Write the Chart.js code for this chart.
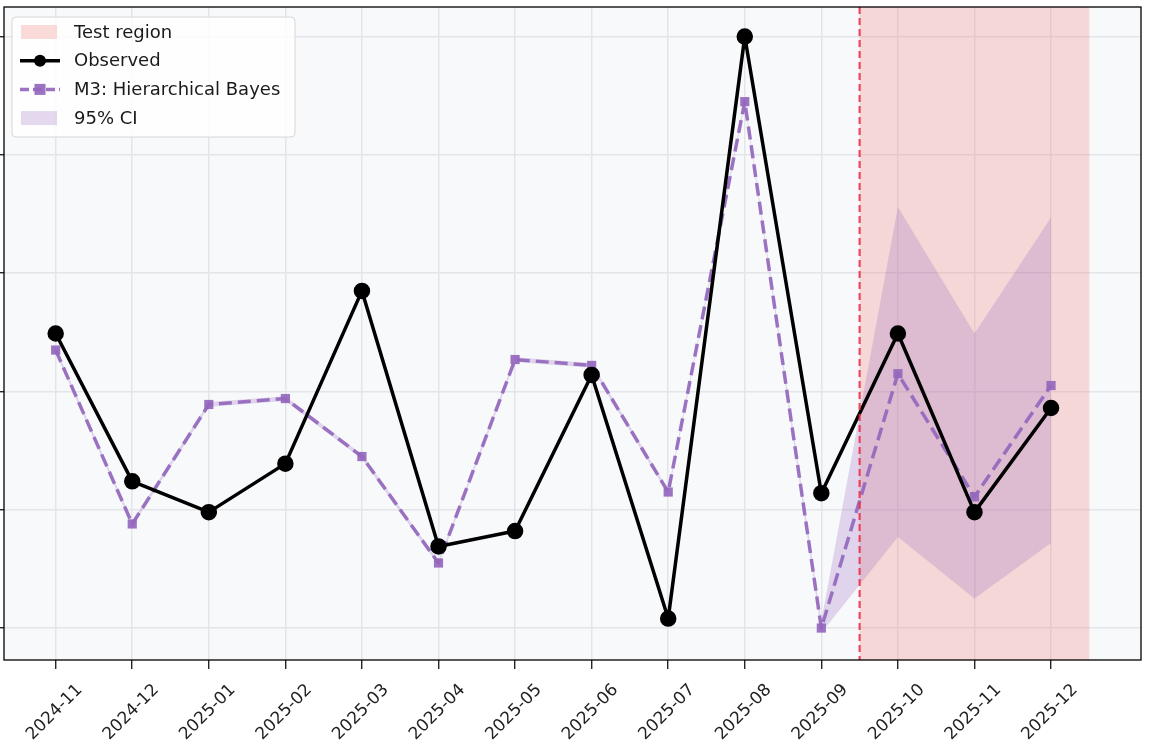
<!DOCTYPE html>
<html>
<head>
<meta charset="utf-8">
<script src="https://cdn.jsdelivr.net/npm/chart.js@4.4.1/dist/chart.umd.min.js"></script>
<style>
  html, body { margin: 0; padding: 0; background: #fff; }
  #wrap { width: 1149px; height: 747px; }
</style>
</head>
<body>
<div id="wrap"><canvas id="chart"></canvas></div>
<script>
// values (y axis is unlabelled, units are gridline steps)
const months = ['2024-11','2024-12','2025-01','2025-02','2025-03','2025-04','2025-05',
                '2025-06','2025-07','2025-08','2025-09','2025-10','2025-11','2025-12'];
const observed = [2.49, 1.24, 0.98, 1.39, 2.85, 0.69, 0.82, 2.14, 0.08, 5.00, 1.14, 2.49, 0.98, 1.86];
const m3Pred   = [2.35, 0.88, 1.89, 1.94, 1.45, 0.55, 2.27, 2.22, 1.15, 4.45, 0.00, 2.15, 1.11, 2.05];
const ciLower  = [2.33, 0.86, 1.87, 1.92, 1.43, 0.53, 2.25, 2.20, 1.13, 4.43, -0.04, 0.77, 0.25, 0.72];
const ciUpper  = [2.37, 0.90, 1.91, 1.96, 1.47, 0.57, 2.29, 2.24, 1.17, 4.47, 0.06, 3.56, 2.49, 3.47];
const yTicks = [0, 1, 2, 3, 4, 5];
const testStart = 10.5, testEnd = 13.5;

const PURPLE = 'rgba(148,103,189,0.92)';
const CI_FILL = 'rgba(148,103,189,0.25)';
const TEST_FILL = 'rgba(242,128,122,0.28)';
const FONT = '"DejaVu Sans", sans-serif';

function pts(arr){ return arr.map((v, i) => ({ x: i, y: v })); }

// plot background, test region and split line
const regionPlugin = {
  id: 'region',
  beforeDraw(chart){
    const { ctx, chartArea: a } = chart;
    ctx.save();
    ctx.fillStyle = '#f8f9fb';
    ctx.fillRect(a.left, a.top, a.right - a.left, a.bottom - a.top);
    ctx.restore();
  },
  beforeDatasetsDraw(chart){
    const { ctx, chartArea: a, scales: { x } } = chart;
    const x0 = x.getPixelForValue(testStart), x1 = x.getPixelForValue(testEnd);
    ctx.save();
    ctx.fillStyle = TEST_FILL;
    ctx.fillRect(x0, a.top, x1 - x0, a.bottom - a.top);
    ctx.restore();
  },
  afterDatasetsDraw(chart){
    const { ctx, chartArea: a, scales: { x } } = chart;
    const x0 = x.getPixelForValue(testStart);
    ctx.save();
    ctx.strokeStyle = 'rgba(238,40,70,0.85)';
    ctx.lineWidth = 2.2;
    ctx.setLineDash([7, 4]);
    ctx.beginPath(); ctx.moveTo(x0, a.top); ctx.lineTo(x0, a.bottom); ctx.stroke();
    ctx.restore();
  },
  afterDraw(chart){
    const { ctx, chartArea: a } = chart;
    ctx.save();
    ctx.strokeStyle = '#000';
    ctx.lineWidth = 1.3;
    ctx.strokeRect(a.left, a.top, a.right - a.left, a.bottom - a.top);
    ctx.restore();
  }
};

// matplotlib-like legend box inside the plot, upper left
const legendPlugin = {
  id: 'boxLegend',
  afterDraw(chart){
    const { ctx, chartArea: a } = chart;
    const bx = a.left + 8, by = a.top + 10, bw = 283, bh = 120;
    ctx.save();
    ctx.beginPath();
    ctx.roundRect(bx, by, bw, bh, 4);
    ctx.fillStyle = 'rgba(255,255,255,0.82)';
    ctx.fill();
    ctx.strokeStyle = '#d6d6d6';
    ctx.lineWidth = 1;
    ctx.stroke();

    const items = [
      { kind: 'patch', color: TEST_FILL, text: 'Test region' },
      { kind: 'circle', text: chart.data.datasets[0].label },
      { kind: 'square', text: chart.data.datasets[1].label },
      { kind: 'patch', color: CI_FILL, text: '95% CI' }
    ];
    const hx = bx + 8, hw = 40;
    items.forEach((it, i) => {
      const cy = by + 15 + i * 28.7;
      if (it.kind === 'patch') {
        ctx.fillStyle = it.color;
        ctx.fillRect(hx + 1, cy - 7, hw - 4, 14);
      } else if (it.kind === 'circle') {
        ctx.strokeStyle = '#000'; ctx.lineWidth = 3.5; ctx.setLineDash([]);
        ctx.beginPath(); ctx.moveTo(hx, cy); ctx.lineTo(hx + hw, cy); ctx.stroke();
        ctx.fillStyle = '#000';
        ctx.beginPath(); ctx.arc(hx + hw / 2, cy, 6, 0, Math.PI * 2); ctx.fill();
      } else {
        ctx.strokeStyle = PURPLE; ctx.lineWidth = 3.5; ctx.setLineDash([9, 4]);
        ctx.beginPath(); ctx.moveTo(hx, cy); ctx.lineTo(hx + hw, cy); ctx.stroke();
        ctx.setLineDash([]);
        ctx.fillStyle = PURPLE;
        ctx.fillRect(hx + hw / 2 - 5.5, cy - 5.5, 11, 11);
      }
      ctx.fillStyle = '#1a1a1a';
      ctx.font = '18px ' + FONT;
      ctx.textBaseline = 'middle';
      ctx.textAlign = 'left';
      ctx.fillText(it.text, bx + 62, cy + 1);
    });
    ctx.restore();
  }
};

new Chart(document.getElementById('chart').getContext('2d'), {
  type: 'line',
  data: {
    datasets: [
      { label: 'Observed', data: pts(observed), borderColor: '#000', backgroundColor: '#000',
        borderWidth: 3.5, borderJoinStyle: 'round', pointRadius: 6.5, pointHoverRadius: 6.5,
        pointStyle: 'circle', fill: false, tension: 0 },
      { label: 'M3: Hierarchical Bayes', data: pts(m3Pred), borderColor: PURPLE, backgroundColor: PURPLE,
        borderWidth: 3.5, borderJoinStyle: 'round', borderDash: [13, 6], pointRadius: 6.5, pointStyle: 'rect',
        pointBorderWidth: 0, fill: false, tension: 0 },
      { label: '95% CI upper', data: pts(ciUpper), borderWidth: 0, borderColor: 'rgba(0,0,0,0)',
        pointRadius: 0, backgroundColor: CI_FILL, fill: '+1', tension: 0 },
      { label: '95% CI lower', data: pts(ciLower), borderWidth: 0, borderColor: 'rgba(0,0,0,0)',
        pointRadius: 0, fill: false, tension: 0 }
    ]
  },
  options: {
    responsive: true,
    maintainAspectRatio: false,
    animation: false,
    events: [],
    layout: { autoPadding: false, padding: { top: 7, right: 8, left: 0, bottom: 0 } },
    plugins: { legend: { display: false }, tooltip: { enabled: false } },
    scales: {
      x: {
        type: 'linear',
        min: -0.675, max: 14.175,
        afterBuildTicks: s => { s.ticks = months.map((m, i) => ({ value: i })); },
        afterFit: s => { s.height = 87; s.paddingLeft = 0; s.paddingRight = 0; },
        grid: { color: '#e4e5ea', lineWidth: 1.5, tickColor: '#000', tickLength: 9, tickWidth: 1.2 },
        border: { display: false },
        ticks: {
          autoSkip: false, maxRotation: 45, minRotation: 45, labelOffset: 24, padding: 11,
          color: '#222', font: { family: FONT, size: 17 },
          callback: v => months[v] ?? ''
        }
      },
      y: {
        min: -0.27, max: 5.25,
        afterBuildTicks: s => { s.ticks = yTicks.map(v => ({ value: v })); },
        afterFit: s => { s.width = 4; s.paddingTop = 0; s.paddingBottom = 0; },
        grid: { color: '#e4e5ea', lineWidth: 1.5, tickColor: '#000', tickLength: 4, tickWidth: 1.2 },
        border: { display: false },
        ticks: { display: false }
      }
    }
  },
  plugins: [regionPlugin, legendPlugin]
});
</script>
</body>
</html>
